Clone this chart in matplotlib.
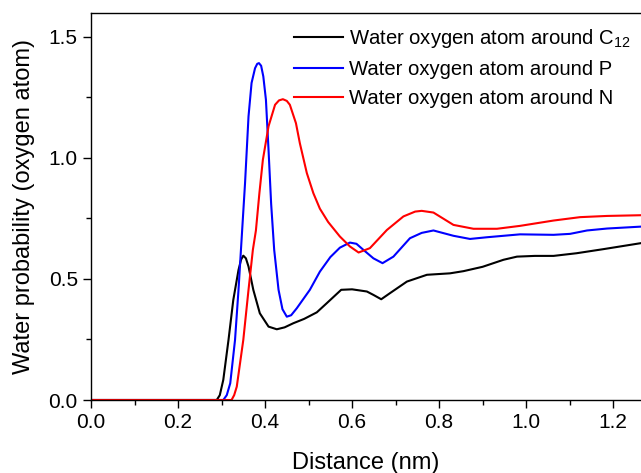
import matplotlib
matplotlib.use("Agg")
import matplotlib.pyplot as plt
from matplotlib.ticker import MultipleLocator

plt.rcParams['font.family'] = ['Liberation Sans', 'DejaVu Sans']
plt.rcParams['mathtext.fontset'] = 'custom'
plt.rcParams['mathtext.rm'] = 'Liberation Sans'
plt.rcParams['mathtext.it'] = 'Liberation Sans:italic'
plt.rcParams['mathtext.bf'] = 'Liberation Sans:bold'

# Distances (nm) and water probabilities
x_c12 = [0.0, 0.2, 0.289, 0.296, 0.304, 0.316, 0.327, 0.339, 0.345, 0.350, 0.356,
         0.362, 0.373, 0.388, 0.408, 0.427, 0.445, 0.465, 0.490, 0.519, 0.542,
         0.560, 0.575, 0.600, 0.634, 0.649, 0.667, 0.687, 0.726, 0.772, 0.825,
         0.856, 0.900, 0.948, 0.979, 1.020, 1.063, 1.116, 1.178, 1.265]
y_c12 = [0.0, 0.0, 0.0, 0.02, 0.083, 0.248, 0.413, 0.537, 0.580, 0.596, 0.585,
         0.551, 0.455, 0.358, 0.303, 0.292, 0.300, 0.317, 0.335, 0.362, 0.400,
         0.430, 0.455, 0.457, 0.448, 0.434, 0.416, 0.441, 0.489, 0.517, 0.523,
         0.532, 0.550, 0.579, 0.592, 0.595, 0.595, 0.606, 0.623, 0.648]

x_p = [0.0, 0.2, 0.304, 0.312, 0.320, 0.331, 0.339, 0.346, 0.354, 0.362, 0.369,
       0.377, 0.382, 0.386, 0.391, 0.396, 0.402, 0.408, 0.414, 0.421, 0.431,
       0.440, 0.450, 0.460, 0.473, 0.503, 0.526, 0.550, 0.572, 0.595, 0.610,
       0.626, 0.649, 0.670, 0.695, 0.733, 0.760, 0.787, 0.833, 0.871, 0.910,
       0.986, 1.063, 1.101, 1.140, 1.186, 1.265]
y_p = [0.0, 0.0, 0.0, 0.02, 0.069, 0.248, 0.455, 0.661, 0.895, 1.171, 1.309,
       1.370, 1.388, 1.391, 1.380, 1.336, 1.240, 1.033, 0.810, 0.620, 0.455,
       0.375, 0.344, 0.350, 0.379, 0.455, 0.530, 0.590, 0.629, 0.650, 0.645,
       0.620, 0.585, 0.565, 0.592, 0.668, 0.690, 0.700, 0.678, 0.665, 0.672,
       0.684, 0.682, 0.686, 0.700, 0.708, 0.716]

x_n = [0.0, 0.2, 0.323, 0.329, 0.335, 0.350, 0.362, 0.372, 0.379, 0.387, 0.395,
       0.408, 0.423, 0.432, 0.441, 0.450, 0.457, 0.471, 0.480, 0.496, 0.511,
       0.526, 0.545, 0.572, 0.595, 0.615, 0.641, 0.680, 0.718, 0.745, 0.760,
       0.787, 0.833, 0.879, 0.933, 0.986, 1.063, 1.124, 1.186, 1.265]
y_n = [0.0, 0.0, 0.0, 0.02, 0.055, 0.248, 0.455, 0.620, 0.700, 0.854, 0.992,
       1.130, 1.219, 1.237, 1.242, 1.235, 1.219, 1.143, 1.060, 0.937, 0.854,
       0.790, 0.735, 0.675, 0.634, 0.609, 0.627, 0.702, 0.758, 0.778, 0.781,
       0.774, 0.723, 0.707, 0.707, 0.719, 0.741, 0.755, 0.760, 0.763]

labels = ['Water oxygen atom around C$_{12}$',
          'Water oxygen atom around P',
          'Water oxygen atom around N']
colors = ['black', 'blue', 'red']

fig = plt.figure(figsize=(6.41, 4.73), dpi=100)
ax = fig.add_axes([91/641, 1-400/473, 1-91/641, (400-12.5)/473])

ax.plot(x_c12, y_c12, color=colors[0], lw=1.5, label=labels[0])
ax.plot(x_p, y_p, color=colors[1], lw=1.5, label=labels[1])
ax.plot(x_n, y_n, color=colors[2], lw=1.5, label=labels[2])

ax.set_xlim(0, 1.264)
ax.set_ylim(0, 1.6)
ax.xaxis.set_major_locator(MultipleLocator(0.2))
ax.xaxis.set_minor_locator(MultipleLocator(0.1))
ax.yaxis.set_major_locator(MultipleLocator(0.5))
ax.yaxis.set_minor_locator(MultipleLocator(0.25))
ax.tick_params(which='major', direction='out', length=6, width=1, labelsize=15)
ax.tick_params(which='minor', direction='out', length=3.5, width=1)
ax.tick_params(top=False, right=False)
ax.spines['right'].set_visible(False)
for s in ['left', 'bottom', 'top']:
    ax.spines[s].set_linewidth(1)

ax.set_xlabel('Distance (nm)', fontsize=17, labelpad=14)
ax.set_ylabel('Water probability (oxygen atom)', fontsize=17, labelpad=10)

ax.legend(loc='upper left', bbox_to_anchor=(0.336, 1.01), frameon=False,
          fontsize=14.6, handlelength=2.4, handletextpad=0.3, labelspacing=0.5)

fig.savefig('out.png', dpi=100)
